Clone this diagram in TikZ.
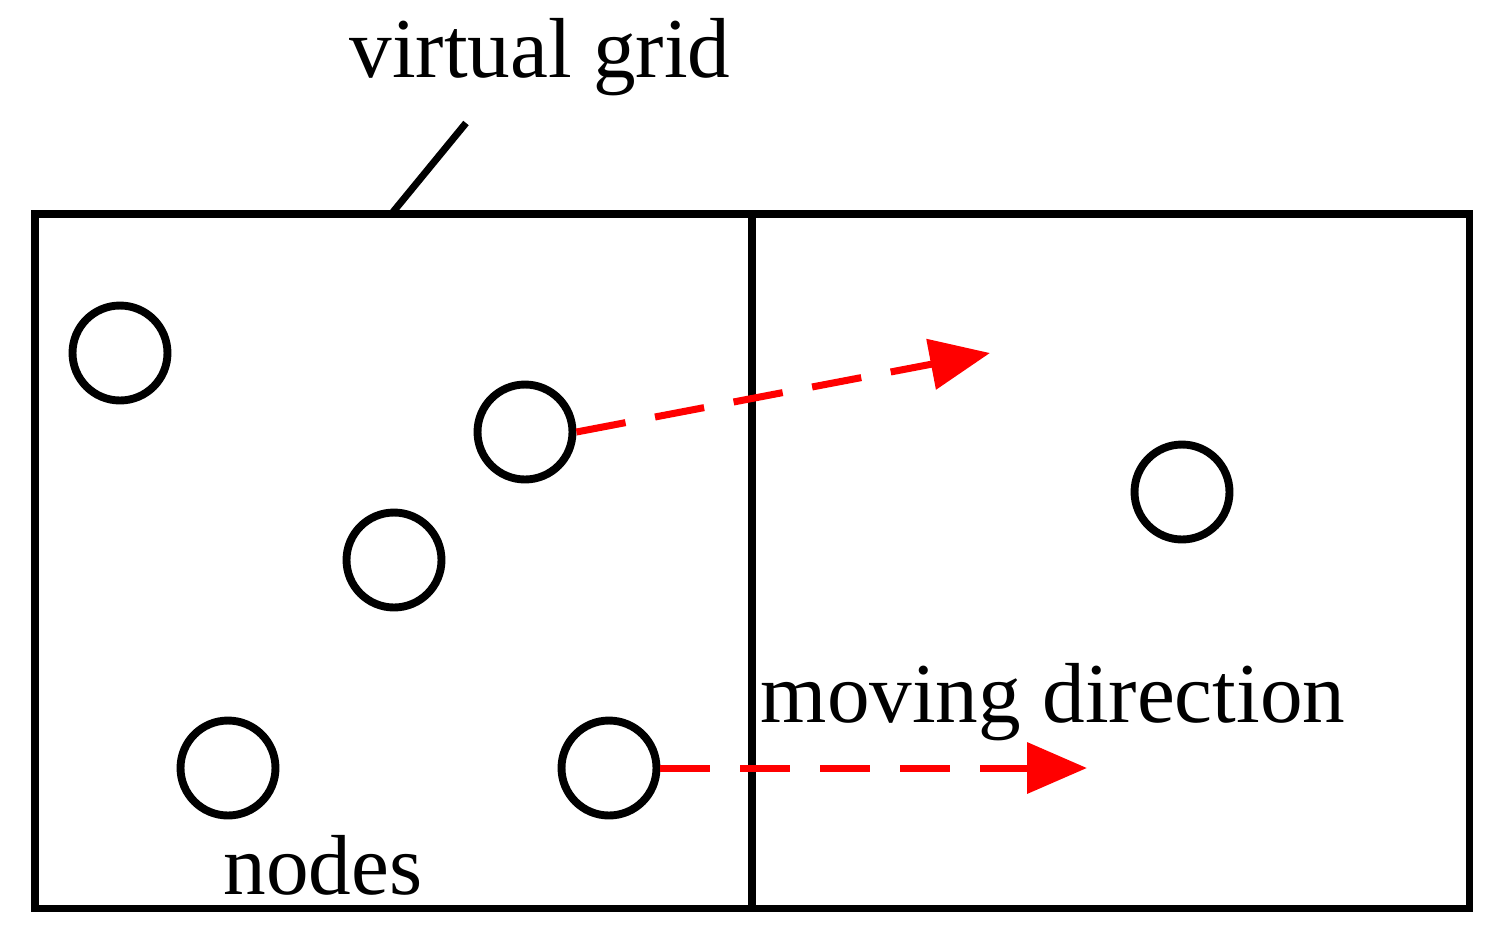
\documentclass[tikz,border=0pt]{standalone}
\usepackage{fontspec}
\setmainfont{Liberation Serif}
\usetikzlibrary{arrows.meta}
\begin{document}
\begin{tikzpicture}[x=0.02cm,y=-0.02cm,
  nd/.style={circle,draw=black,line width=4.5pt,minimum size=1.9cm,inner sep=0},
  box/.style={draw=black,line width=4pt},
  mv/.style={draw=red,line width=4pt,dash pattern=on 1cm off 0.6cm,-{Triangle[length=1.2cm,width=1cm]}},
  lbl/.style={font=\fontsize{48.5}{50}\selectfont,inner sep=0}]
\useasboundingbox (0,0) rectangle (1507,944);
\draw[box] (35,214) rectangle (1469,908);
\draw[box] (752,214) -- (752,908);
\node[nd] (n1) at (120,353) {};
\node[nd] (n2) at (525,432) {};
\node[nd] (n3) at (394,560) {};
\node[nd] (n4) at (228,768) {};
\node[nd] (n5) at (609,768) {};
\node[nd] (n6) at (1182,492) {};
\coordinate (g) at (393,212);
\coordinate (g2) at (466,123);
\draw[line width=4pt] (g) -- (g2);
\node[lbl] (t1) at (540,57) {virtual grid};
\node[lbl] (t2) at (323,865) {nodes};
\node[lbl] (t3) at (1053,702) {moving direction};
\coordinate (a1) at (990,353);
\coordinate (a2) at (1087,768);
\draw[mv] (n2.east) -- (a1);
\draw[mv] (n5.east) -- (a2);
\end{tikzpicture}
\end{document}
